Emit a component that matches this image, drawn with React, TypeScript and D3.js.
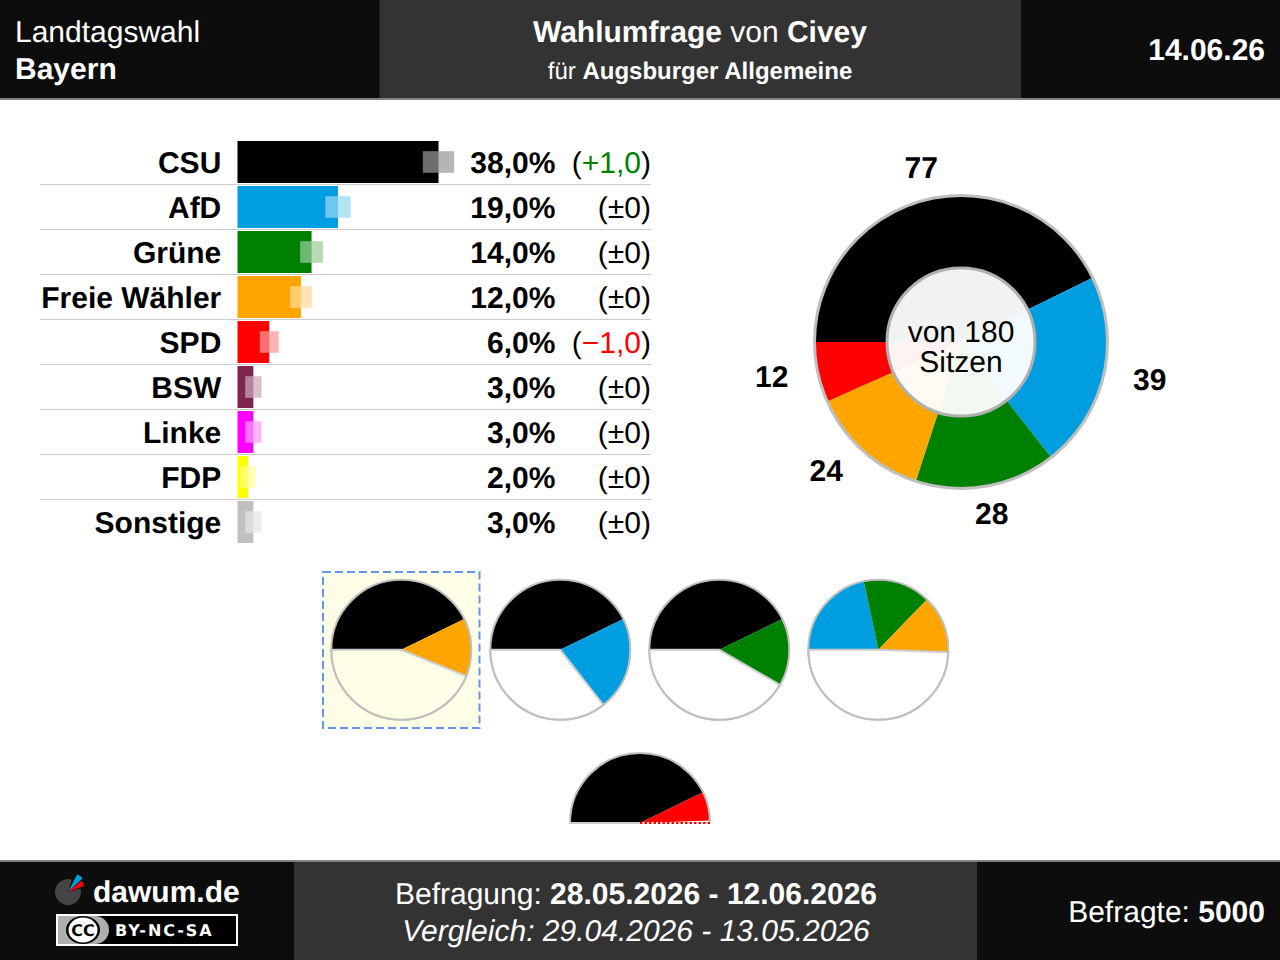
import * as d3 from "d3";

const parties = ["CSU", "AfD", "Grüne", "Freie Wähler", "SPD", "BSW", "Linke", "FDP", "Sonstige"];
const partyColors = ["#000000", "#009ee0", "#008000", "#ffa500", "#ff0000", "#7d254f", "#ff00ff", "#ffff00", "#c0c0c0"];
const shares = [38, 19, 14, 12, 6, 3, 3, 2, 3];
const shareLabels = ["38,0%", "19,0%", "14,0%", "12,0%", "6,0%", "3,0%", "3,0%", "2,0%", "3,0%"];
const changes = ["+1,0", "±0", "±0", "±0", "−1,0", "±0", "±0", "±0", "±0"];
const errorMargins = [3.0, 2.43, 2.2, 2.08, 1.82, 1.58, 1.58, 1.45, 1.58];

const seatParties = ["CSU", "AfD", "Grüne", "Freie Wähler", "SPD"];
const seats = [77, 39, 28, 24, 12];
const totalSeats = 180;

const coalitions = [
  ["CSU", "Freie Wähler"],
  ["CSU", "AfD"],
  ["CSU", "Grüne"],
  ["AfD", "Grüne", "Freie Wähler"],
];
const noMajority = ["CSU", "SPD"];

const FONT = "'Liberation Sans', Arial, sans-serif";
const colorOf = (p: string) => partyColors[parties.indexOf(p)];
const seatsOf = (p: string) => seats[seatParties.indexOf(p)];

const rowScale = d3.scaleBand<string>().domain(parties).range([139.5, 544.5]);
const xScale = d3.scaleLinear().domain([0, 38]).range([237.5, 438.5]);

type Slice = { party: string | null; value: number };

// one seat is always the same angle, coalition pies just stop earlier
const angle = d3.scaleLinear().domain([0, totalSeats]).range([-Math.PI / 2, (3 * Math.PI) / 2]);

const pieFor = (members: string[], total: number) => {
  const used = d3.sum(members, seatsOf);
  const slices: Slice[] = members.map((p) => ({ party: p, value: seatsOf(p) }));
  slices.push({ party: null, value: total - used });
  return d3
    .pie<Slice>()
    .sort(null)
    .value((d) => d.value)
    .startAngle(angle(0))
    .endAngle(angle(total))(slices);
};

const MiniPie = ({ members, cx, cy }: { members: string[]; cx: number; cy: number }) => {
  const arc = d3.arc<d3.PieArcDatum<Slice>>().innerRadius(0).outerRadius(70);
  const arcs = pieFor(members, totalSeats);
  return (
    <g transform={`translate(${cx},${cy})`}>
      {arcs.map((a, i) =>
        a.data.party ? (
          <path key={i} d={arc(a) ?? ""} fill={colorOf(a.data.party)} />
        ) : (
          <path key={i} d={arc(a) ?? ""} fill="none" stroke="#cccccc" strokeWidth={2} />
        )
      )}
      <circle r={70} fill="none" stroke="#bfbfbf" strokeWidth={2} />
    </g>
  );
};

const HalfPie = ({ members, cx, cy }: { members: string[]; cx: number; cy: number }) => {
  const r = 70;
  const arc = d3.arc<d3.PieArcDatum<Slice>>().innerRadius(0).outerRadius(r);
  const arcs = pieFor(members, totalSeats / 2);
  const dome = d3.arc<unknown>()({
    innerRadius: r,
    outerRadius: r,
    startAngle: -Math.PI / 2,
    endAngle: Math.PI / 2,
  } as never);
  return (
    <g transform={`translate(${cx},${cy})`}>
      {arcs.map((a, i) =>
        a.data.party ? <path key={i} d={arc(a) ?? ""} fill={colorOf(a.data.party)} /> : null
      )}
      <path d={dome ?? ""} fill="none" stroke="#bfbfbf" strokeWidth={2} />
      <line x1={-r - 1} x2={0} y1={0} y2={0} stroke="#cccccc" strokeWidth={2} />
      <line x1={0} x2={r + 1} y1={0} y2={0} stroke="#ffffff" strokeWidth={2} />
      <line x1={0} x2={r + 1} y1={0} y2={0} stroke="#ff0000" strokeWidth={2} strokeDasharray="2.5,2" />
    </g>
  );
};

const Logo = () => {
  const arc = d3.arc<unknown>();
  const disc = arc({ innerRadius: 0, outerRadius: 13, startAngle: 1.3, endAngle: 2 * Math.PI + 0.3 } as never);
  const blue = arc({ innerRadius: 0, outerRadius: 20, startAngle: 0.48, endAngle: 0.82 } as never);
  const red = arc({ innerRadius: 0, outerRadius: 17.5, startAngle: 0.88, endAngle: 1.2 } as never);
  return (
    <g transform="translate(68,892)">
      <path d={disc ?? ""} fill="#444444" />
      <path d={blue ?? ""} fill="#009ee0" />
      <path d={red ?? ""} fill="#ff0000" />
    </g>
  );
};

const CcBadge = () => (
  <g>
    <rect x={57} y={915} width={180} height={30} fill="#000000" stroke="#ffffff" strokeWidth={2} />
    <path d="M58,916 H95 A14,14 0 0 1 95,944 H58 Z" fill="#aab2ab" />
    <ellipse cx={83} cy={930} rx={17} ry={14} fill="#000000" />
    <ellipse cx={83} cy={930} rx={14.5} ry={12.5} fill="#ffffff" />
    <text x={83} y={936} textAnchor="middle" fontFamily="'DejaVu Sans'" fontWeight="bold" fontSize={16} fill="#000000">
      CC
    </text>
    <text x={115} y={936} fontFamily="'DejaVu Sans'" fontWeight="bold" fontSize={16} letterSpacing={1.9} fill="#ffffff">
      BY-NC-SA
    </text>
  </g>
);

const App = () => {
  const cx = 961;
  const cy = 342;
  const donutArcs = pieFor(seatParties, totalSeats);
  const donut = d3.arc<d3.PieArcDatum<Slice>>().innerRadius(0).outerRadius(146.5);
  const labelArc = d3.arc<d3.PieArcDatum<Slice>>().innerRadius(176.5).outerRadius(176.5);

  return (
    <svg
      width={1280}
      height={960}
      style={{ position: "absolute", left: 0, top: 0, background: "#fff" }}
      fontFamily={FONT}
      textRendering="geometricPrecision"
    >
      {/* header */}
      <rect width={1280} height={98} fill="#0d0d0d" />
      <rect x={379.5} width={641.5} height={98} fill="#333333" />
      <rect y={98} width={1280} height={2} fill="#808080" />
      <g fill="#ffffff" fontSize={30}>
        <text x={15} y={42}>Landtagswahl</text>
        <text x={15} y={79} fontWeight="bold">Bayern</text>
        <text x={700} y={42} textAnchor="middle">
          <tspan fontWeight="bold">Wahlumfrage</tspan> von <tspan fontWeight="bold">Civey</tspan>
        </text>
        <text x={700} y={79} textAnchor="middle" fontSize={24}>
          für <tspan fontWeight="bold">Augsburger Allgemeine</tspan>
        </text>
        <text x={1265} y={60} textAnchor="end" fontWeight="bold">14.06.26</text>
      </g>

      {/* bars */}
      {parties.map((p, i) => {
        const top = rowScale(p) ?? 0;
        const x1 = xScale(shares[i]);
        const half = xScale(errorMargins[i]) - xScale(0);
        const tint = d3.interpolateRgb(partyColors[i], "#ffffff")(0.6);
        const change = changes[i];
        const changeColor = change.startsWith("+") ? "#008000" : change.startsWith("−") ? "#ff0000" : "#000000";
        return (
          <g key={p}>
            {i > 0 && <line x1={40} x2={651} y1={top} y2={top} stroke="#cccccc" strokeWidth={1} />}
            <text x={221.3} y={top + 33.5} textAnchor="end" fontWeight="bold" fontSize={30}>{p}</text>
            <rect x={xScale(0)} y={top + 1.5} width={x1 - xScale(0)} height={42} fill={partyColors[i]} />
            <rect
              x={x1 - half + 0.5}
              y={top + 12}
              width={half * 2 - 1}
              height={21}
              fill={tint}
              fillOpacity={0.72}
              stroke={tint}
              strokeOpacity={0.35}
              strokeWidth={1}
            />
            <text x={555.4} y={top + 33.5} textAnchor="end" fontWeight="bold" fontSize={30}>{shareLabels[i]}</text>
            <text x={651} y={top + 33.5} textAnchor="end" fontSize={30}>
              (<tspan fill={changeColor}>{change}</tspan>)
            </text>
          </g>
        );
      })}

      {/* seat donut */}
      <g transform={`translate(${cx},${cy})`}>
        {donutArcs.map((a, i) =>
          a.data.party ? <path key={i} d={donut(a) ?? ""} fill={colorOf(a.data.party)} /> : null
        )}
        <circle r={146.5} fill="none" stroke="#bfbfbf" strokeWidth={3} />
        <circle r={74} fill="#ffffff" fillOpacity={0.95} stroke="#b0b0b0" strokeWidth={3} />
        <text y={-0.5} textAnchor="middle" fontSize={30}>von 180</text>
        <text y={30} textAnchor="middle" fontSize={30}>Sitzen</text>
        {donutArcs.map((a, i) => {
          if (!a.data.party) return null;
          const [lx, ly] = labelArc.centroid(a);
          const side = Math.abs(lx) < 60 ? "middle" : lx > 0 ? "start" : "end";
          return (
            <text key={i} x={lx} y={ly + 8} textAnchor={side} fontWeight="bold" fontSize={30}>
              {a.data.value}
            </text>
          );
        })}
      </g>

      {/* coalitions */}
      <rect x={323} y={572} width={156.5} height={156} fill="#ffffe8" stroke="#6495ed" strokeWidth={2} strokeDasharray="8,4" />
      {coalitions.map((c, i) => (
        <MiniPie key={i} members={c} cx={401.3 + i * 159} cy={649.8} />
      ))}
      <HalfPie members={noMajority} cx={640} cy={823} />

      {/* footer */}
      <rect y={860} width={1280} height={100} fill="#0d0d0d" />
      <rect x={294} y={862} width={683} height={98} fill="#333333" />
      <rect y={860} width={1280} height={2} fill="#808080" />
      <Logo />
      <text x={93} y={902} fill="#ffffff" fontWeight="bold" fontSize={30}>dawum.de</text>
      <CcBadge />
      <g fill="#ffffff" fontSize={30}>
        <text x={636} y={904} textAnchor="middle">
          Befragung: <tspan fontWeight="bold">28.05.2026 - 12.06.2026</tspan>
        </text>
        <text x={636} y={941} textAnchor="middle" fontStyle="italic">Vergleich: 29.04.2026 - 13.05.2026</text>
        <text x={1265} y={922} textAnchor="end">
          Befragte: <tspan fontWeight="bold">5000</tspan>
        </text>
      </g>
    </svg>
  );
};

export default App;
